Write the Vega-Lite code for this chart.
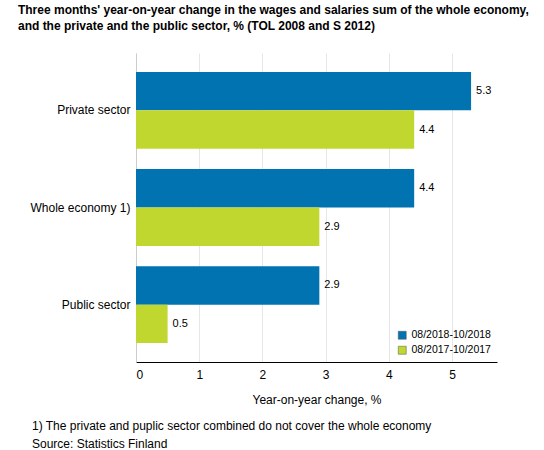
{
  "$schema": "https://vega.github.io/schema/vega-lite/v6.json",
  "padding": {"left": 17, "top": 4, "right": 5, "bottom": 0},
  "title": {
    "text": [
      "Three months' year-on-year change in the wages and salaries sum of the whole economy,",
      "and the private and the public sector, % (TOL 2008 and S 2012)"
    ],
    "anchor": "start",
    "frame": "bounds",
    "dx": -12,
    "offset": 20,
    "fontSize": 12,
    "fontWeight": "bold",
    "lineHeight": 16,
    "color": "#000000"
  },
  "datasets": {
    "wages": [
      {"sector": "Private sector", "period": "08/2018-10/2018", "value": 5.3},
      {"sector": "Private sector", "period": "08/2017-10/2017", "value": 4.4},
      {"sector": "Whole economy 1)", "period": "08/2018-10/2018", "value": 4.4},
      {"sector": "Whole economy 1)", "period": "08/2017-10/2017", "value": 2.9},
      {"sector": "Public sector", "period": "08/2018-10/2018", "value": 2.9},
      {"sector": "Public sector", "period": "08/2017-10/2017", "value": 0.5}
    ]
  },
  "spacing": 15,
  "resolve": {"legend": {"color": "independent"}},
  "vconcat": [
    {
      "width": 361,
      "height": 309,
      "data": {"name": "wages"},
      "encoding": {
        "y": {
          "field": "sector",
          "type": "nominal",
          "sort": ["Private sector", "Whole economy 1)", "Public sector"],
          "scale": {"paddingInner": 0.21, "paddingOuter": 0.195},
          "title": null,
          "axis": {
            "ticks": false,
            "domainColor": "#cccccc",
            "labelPadding": 6,
            "labelFontSize": 12,
            "labelColor": "#000000"
          }
        },
        "yOffset": {
          "field": "period",
          "type": "nominal",
          "sort": ["08/2018-10/2018", "08/2017-10/2017"]
        },
        "x": {
          "field": "value",
          "type": "quantitative",
          "scale": {"domain": [0, 5.71], "nice": false},
          "title": "Year-on-year change, %",
          "axis": {
            "values": [0, 1, 2, 3, 4, 5],
            "ticks": false,
            "grid": true,
            "gridColor": "#e6e6e6",
            "domainColor": "#000000",
            "labelPadding": 7,
            "labelFontSize": 12,
            "labelColor": "#000000",
            "titleFontSize": 12,
            "titleFontWeight": "normal",
            "titleColor": "#000000",
            "titlePadding": 14
          }
        }
      },
      "layer": [
        {
          "mark": {"type": "bar"},
          "encoding": {
            "color": {
              "field": "period",
              "type": "nominal",
              "sort": ["08/2018-10/2018", "08/2017-10/2017"],
              "scale": {"range": ["#0073b0", "#c0d730"]},
              "title": null,
              "legend": {
                "orient": "bottom-right",
                "offset": 6,
                "symbolType": "square",
                "symbolSize": 64,
                "symbolStrokeColor": "#555555",
                "symbolStrokeWidth": 0.5,
                "labelFontSize": 10.5,
                "labelColor": "#000000",
                "rowPadding": 4
              }
            }
          }
        },
        {
          "mark": {"type": "text", "align": "left", "dx": 5, "fontSize": 11, "color": "#000000"},
          "encoding": {
            "text": {"field": "value", "type": "quantitative", "format": ".1f"}
          }
        }
      ]
    },
    {
      "width": 361,
      "height": 1,
      "data": {"values": []},
      "mark": "text",
      "encoding": {},
      "title": {
        "text": [
          "1) The private and puplic sector combined do not cover the whole economy",
          "Source: Statistics Finland"
        ],
        "anchor": "start",
        "frame": "group",
        "orient": "top",
        "offset": 0,
        "dx": -104,
        "fontSize": 12,
        "fontWeight": "normal",
        "lineHeight": 18,
        "color": "#000000"
      }
    }
  ],
  "config": {
    "font": "Liberation Sans",
    "view": {"stroke": null}
  }
}
